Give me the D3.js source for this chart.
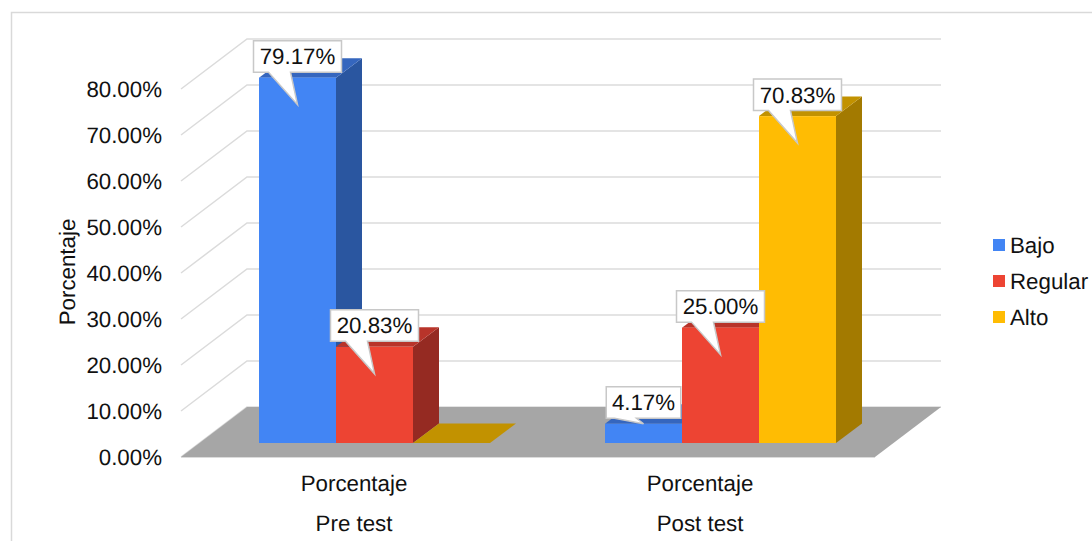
<!DOCTYPE html>
<html><head><meta charset="utf-8">
<script src="https://cdnjs.cloudflare.com/ajax/libs/d3/7.8.5/d3.min.js"></script>
<style>html,body{margin:0;padding:0;background:#fff}svg{display:block}text{font-family:"Liberation Sans",Arial,sans-serif;fill:#111;font-size:22.3px;text-rendering:geometricPrecision}</style>
</head><body><svg id="c" width="1092" height="541"></svg>
<script>
const groups = ["Pre test", "Post test"];
const groupSub = "Porcentaje";
const seriesNames = ["Bajo", "Regular", "Alto"];
const preValues = [79.17, 20.83, 0];
const postValues = [4.17, 25.00, 70.83];
const ticks = [0, 10, 20, 30, 40, 50, 60, 70, 80];
const frontColors = ["#4285F4", "#ED4433", "#FFBC03"];
const topColors = ["#3566BE", "#B8342A", "#C29200"];
const sideColors = ["#2A56A0", "#952A22", "#A37A00"];

const svg = d3.select("#c");
const fmt = v => v.toFixed(2) + "%";
const L = 181, R = 875, F = 457, depthX = 66, depthY = 50;
const barFloor = 443, barDX = 26, barDY = 19.5, barInset = 20.5;
const y = d3.scaleLinear().domain([0, 80]).range([F, F - 368]);
const yBar = d3.scaleLinear().domain([0, 100]).range([barFloor, barFloor - 461.5]);
const x0 = d3.scaleBand().domain(groups).range([L, R - 2]);
const x1 = d3.scaleBand().domain(seriesNames).range([0, 231]);
const pts = a => a.map(p => p.join(",")).join(" ");

// frame
svg.append("path").attr("d", "M11.5,541V12.5H1092").attr("fill", "none").attr("stroke", "#D9D9D9").attr("stroke-width", 1.5);

// grid
const grid = svg.append("g").attr("fill", "none").attr("stroke", "#DBDBDB").attr("stroke-width", 1.5);
grid.selectAll("polyline").data(ticks).join("polyline")
  .attr("points", d => pts([[L, y(d)], [L + depthX, y(d) - depthY], [R + depthX, y(d) - depthY]]));

// floor
svg.append("polygon").attr("fill", "#A6A6A6")
  .attr("points", pts([[L, F], [L + depthX, F - depthY], [R + depthX, F - depthY], [R, F]]));
svg.append("line").attr("x1", L).attr("x2", R).attr("y1", F + .5).attr("y2", F + .5).attr("stroke", "#DBDBDB");

// tick labels
svg.selectAll("text.tick").data(ticks).join("text").attr("class", "tick")
  .attr("x", 162).attr("y", d => y(d)).attr("dy", "0.35em").attr("text-anchor", "end")
  .text(d => fmt(d));

// bars
const data = groups.flatMap((g, i) => seriesNames.map((s, j) => ({
  g, s, j, v: (i ? postValues : preValues)[j]
})));
const groupLeft = g => x0(g) + (x0.bandwidth() - x1.range()[1]) / 2 + barInset;
data.forEach(d => {
  d.x = groupLeft(d.g) + x1(d.s);
  d.w = x1.bandwidth();
  d.top = yBar(d.v);
});
const bars = svg.selectAll("g.bar").data(data).join("g").attr("class", "bar");
bars.append("polygon").attr("fill", d => d.v ? sideColors[d.j] : topColors[d.j])
  .attr("points", d => pts([[d.x + d.w, d.top], [d.x + d.w + barDX, d.top - barDY], [d.x + d.w + barDX, barFloor - barDY], [d.x + d.w, barFloor]]));
bars.append("polygon").attr("fill", d => topColors[d.j])
  .attr("points", d => pts([[d.x, d.top], [d.x + barDX, d.top - barDY], [d.x + d.w + barDX, d.top - barDY], [d.x + d.w, d.top]]));
bars.append("rect").attr("fill", d => frontColors[d.j])
  .attr("x", d => d.x).attr("y", d => d.top).attr("width", d => d.w).attr("height", d => barFloor - d.top);

// callouts
const labelled = data.filter(d => d.v > 0);
const call = svg.selectAll("g.call").data(labelled).join("g").attr("class", "call");
call.append("path").attr("fill", "#fff").attr("stroke", "#C8C8C8").attr("stroke-width", 1.5).attr("stroke-linejoin", "miter")
  .attr("d", d => {
    const cx = d.x + d.w / 2, t = d.top - 37, b = t + 31.5;
    const hw = (d.v < 10 ? 74.5 : 88) / 2;
    const tipY = d.top + (barFloor - d.top > 50 ? 27 : 0);
    return `M${cx - hw},${t}H${cx + hw}V${b}H${cx - 7}L${cx},${tipY}L${cx - 29},${b}H${cx - hw}Z`;
  });
call.append("text").attr("x", d => d.x + d.w / 2).attr("y", d => d.top - 21.2).attr("dy", "0.35em")
  .attr("text-anchor", "middle").text(d => fmt(d.v));

// category labels
const cats = svg.selectAll("g.cat").data(groups).join("g").attr("class", "cat")
  .attr("transform", g => `translate(${x0(g) + x0.bandwidth() / 2},0)`);
cats.append("text").attr("y", 491).attr("text-anchor", "middle").text(groupSub);
cats.append("text").attr("y", 531).attr("text-anchor", "middle").text(g => g);

// axis title
svg.append("text").attr("transform", "translate(75,272) rotate(-90)").attr("text-anchor", "middle").text("Porcentaje");

// legend
const leg = svg.selectAll("g.leg").data(seriesNames).join("g").attr("class", "leg")
  .attr("transform", (d, i) => `translate(993,${239 + i * 36})`);
leg.append("rect").attr("width", 12).attr("height", 12).attr("fill", (d, i) => frontColors[i]);
leg.append("text").attr("x", 17).attr("y", 6).attr("dy", "0.35em").text(d => d);
</script></body></html>
